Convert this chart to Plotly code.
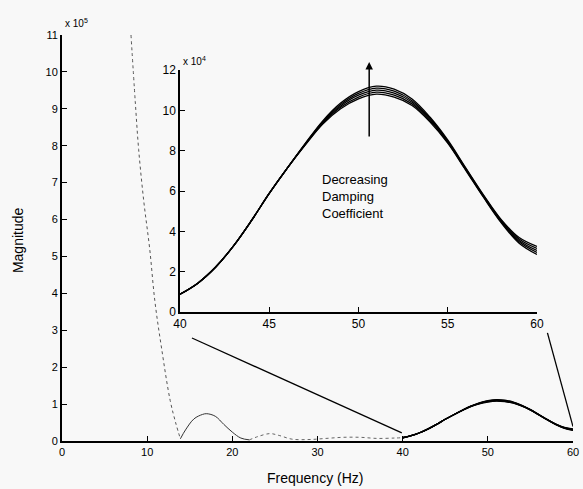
import plotly.graph_objects as go

# ---------------- data ----------------
# main spectrum below 40 Hz (units of 1e5)
steep_hz = [8.1, 8.6, 9.0, 9.6, 10.3, 10.9, 11.7, 12.7, 13.4, 13.9]
steep_mag = [11.0, 9.2, 7.9, 6.5, 5.2, 3.8, 2.5, 1.1, 0.45, 0.06]

bump_hz = [13.9, 14.5, 15.5, 16.5, 17.0, 18.0, 19.0, 20.0, 21.0, 22.0]
bump_mag = [0.06, 0.3, 0.6, 0.72, 0.74, 0.67, 0.45, 0.24, 0.08, 0.03]

tail_hz = [22.0, 23.0, 24.4, 25.5, 27.0, 29.0, 31.0, 33.0, 35.0, 37.0, 39.0, 40.0]
tail_mag = [0.03, 0.12, 0.2, 0.15, 0.05, 0.04, 0.07, 0.1, 0.1, 0.07, 0.08, 0.09]

# zoomed region 40-60 Hz (units of 1e4), one list per damping coefficient
zoom_hz = list(range(40, 61))
damp_1 = [0.88, 1.43, 2.23, 3.28, 4.53, 5.88, 7.12, 8.26, 9.32, 10.08, 10.57, 10.80, 10.65, 10.24, 9.43, 8.37, 7.04, 5.69, 4.42, 3.41, 2.85]
damp_2 = [0.88, 1.43, 2.23, 3.28, 4.53, 5.88, 7.12, 8.28, 9.36, 10.15, 10.66, 10.90, 10.75, 10.32, 9.49, 8.41, 7.07, 5.72, 4.46, 3.48, 2.95]
damp_3 = [0.88, 1.43, 2.23, 3.28, 4.53, 5.88, 7.12, 8.30, 9.40, 10.22, 10.75, 11.00, 10.85, 10.40, 9.55, 8.45, 7.10, 5.75, 4.50, 3.55, 3.05]
damp_4 = [0.88, 1.43, 2.23, 3.28, 4.53, 5.88, 7.12, 8.32, 9.44, 10.29, 10.84, 11.10, 10.95, 10.48, 9.61, 8.49, 7.13, 5.78, 4.54, 3.62, 3.15]
damp_5 = [0.88, 1.43, 2.23, 3.28, 4.53, 5.88, 7.12, 8.34, 9.48, 10.36, 10.93, 11.20, 11.05, 10.56, 9.67, 8.53, 7.16, 5.81, 4.58, 3.69, 3.25]
damping_curves = [damp_1, damp_2, damp_3, damp_4, damp_5]

main_xticks = [0, 10, 20, 30, 40, 50, 60]
main_yticks = list(range(0, 12))
inset_xticks = [40, 45, 50, 55, 60]
inset_yticks = [0, 2, 4, 6, 8, 10, 12]

# connector lines from inset to main plot (main-axis coordinates)
conn_left_x = [15.26, 39.9]
conn_left_y = [2.79, 0.22]
conn_right_x = [57.0, 60.0]
conn_right_y = [2.93, 0.39]

arrow_hz = 50.6

# ---------------- figure ----------------
fig = go.Figure()

fig.add_trace(go.Scatter(x=steep_hz, y=steep_mag, mode="lines",
                         line=dict(color="#555555", width=1, dash="dot", shape="spline"),
                         xaxis="x", yaxis="y", showlegend=False))
fig.add_trace(go.Scatter(x=bump_hz, y=bump_mag, mode="lines",
                         line=dict(color="#333333", width=1, shape="spline"),
                         xaxis="x", yaxis="y", showlegend=False))
fig.add_trace(go.Scatter(x=tail_hz, y=tail_mag, mode="lines",
                         line=dict(color="#666666", width=1, dash="dot", shape="spline"),
                         xaxis="x", yaxis="y", showlegend=False))

for c in damping_curves:
    fig.add_trace(go.Scatter(x=zoom_hz, y=[v / 10 for v in c], mode="lines",
                             line=dict(color="black", width=1.3, shape="spline"),
                             xaxis="x", yaxis="y", showlegend=False))

for c in damping_curves:
    fig.add_trace(go.Scatter(x=zoom_hz, y=c, mode="lines",
                             line=dict(color="black", width=1.3, shape="spline"),
                             xaxis="x2", yaxis="y2", showlegend=False))

fig.add_shape(type="line", xref="x", yref="y",
              x0=conn_left_x[0], y0=conn_left_y[0], x1=conn_left_x[1], y1=conn_left_y[1],
              line=dict(color="black", width=1.3))
fig.add_shape(type="line", xref="x", yref="y",
              x0=conn_right_x[0], y0=conn_right_y[0], x1=conn_right_x[1], y1=conn_right_y[1],
              line=dict(color="black", width=1.3))

font = "Liberation Sans, Arial, Helvetica, sans-serif"
axis_common = dict(showline=True, linecolor="black", mirror=False, showgrid=False,
                   zeroline=False, ticks="inside", tickcolor="black", ticklen=5,
                   automargin=False)

fig.update_layout(
    width=583, height=489,
    margin=dict(l=62, r=10, t=35, b=48),
    paper_bgcolor="#f8f8f8", plot_bgcolor="#f8f8f8",
    font=dict(family=font, color="black"),
    xaxis=dict(range=[0, 60], tickvals=main_xticks, linewidth=2,
               tickfont=dict(family=font, size=11, color="black"), **axis_common),
    yaxis=dict(range=[0, 11], tickvals=main_yticks, linewidth=2,
               tickfont=dict(family=font, size=11, color="black"), **axis_common),
    xaxis2=dict(range=[40, 60], tickvals=inset_xticks, linewidth=1.5, anchor="y2",
                domain=[0.2309, 0.9295],
                tickfont=dict(family=font, size=12, color="black"), **axis_common),
    yaxis2=dict(range=[0, 12], tickvals=inset_yticks, linewidth=1.5, anchor="x2",
                domain=[0.3177, 0.9138],
                tickfont=dict(family=font, size=12, color="black"), **axis_common),
)

fig.add_annotation(text="Frequency (Hz)", xref="paper", yref="paper", x=0.495, y=-0.091,
                   xanchor="center", yanchor="middle", showarrow=False,
                   font=dict(size=14, family=font))
fig.add_annotation(text="Magnitude", xref="paper", yref="paper", x=-0.086, y=0.495,
                   xanchor="center", yanchor="middle", showarrow=False, textangle=-90,
                   font=dict(size=14, family=font))
fig.add_annotation(text="x 10<sup>5</sup>", xref="paper", yref="paper", x=0.002, y=1.03,
                   xanchor="left", yanchor="middle", showarrow=False,
                   font=dict(size=10, family=font))
fig.add_annotation(text="x 10<sup>4</sup>", xref="paper", yref="paper", x=0.233, y=0.935,
                   xanchor="left", yanchor="middle", showarrow=False,
                   font=dict(size=10, family=font))
fig.add_annotation(text="Decreasing<br>Damping<br>Coefficient", xref="x2", yref="y2",
                   x=47.84, y=5.75, xanchor="left", yanchor="middle", align="left",
                   showarrow=False, font=dict(size=13, family=font))
fig.add_annotation(text="", xref="x2", yref="paper", x=arrow_hz, y=0.9335,
                   ax=0, ay=76, showarrow=True, arrowhead=2, arrowsize=1,
                   arrowwidth=1.5, arrowcolor="black")

fig.write_html("out.html",
               config={"displayModeBar": False},
               post_script="document.body.style.margin='0';"
                           "document.body.style.background='#f8f8f8';"
                           "document.body.style.overflow='hidden';")
